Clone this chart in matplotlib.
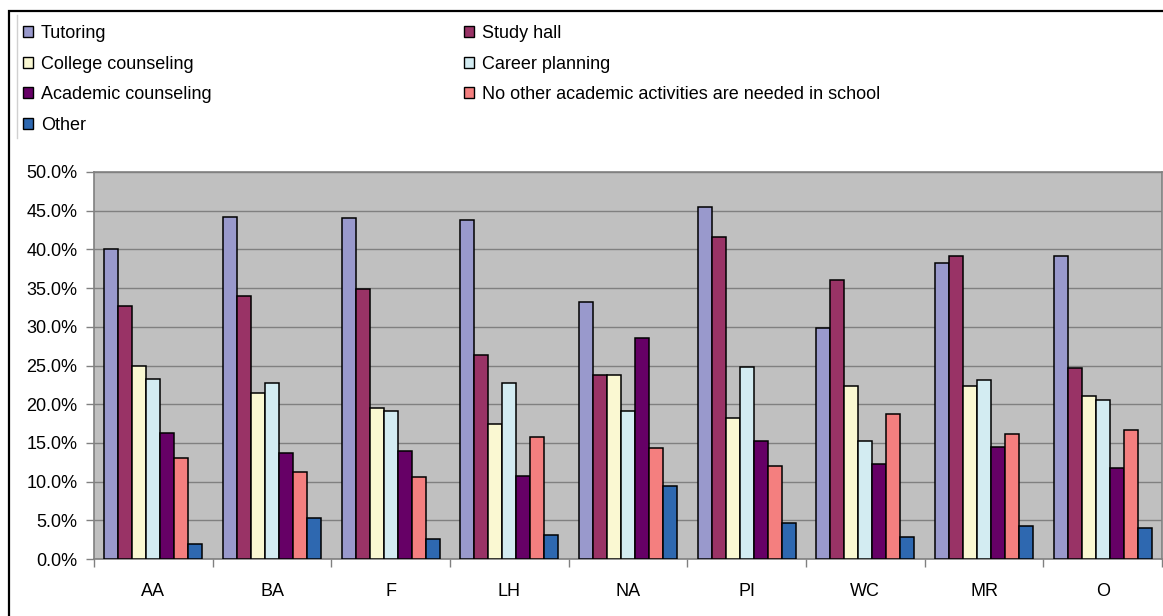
import numpy as np
import matplotlib.pyplot as plt
from matplotlib.patches import Rectangle
from matplotlib.lines import Line2D
from matplotlib.ticker import FuncFormatter, FixedLocator

OUT_PNG = "out.png"

GROUPS = ["AA", "BA", "F", "LH", "NA", "PI", "WC", "MR", "O"]

SERIES = [
    "Tutoring",
    "Study hall",
    "College counseling",
    "Career planning",
    "Academic counseling",
    "No other academic activities are needed in school",
    "Other",
]

# values in percent
tutoring = [40.1, 44.2, 44.1, 43.8, 33.2, 45.5, 29.9, 38.3, 39.2]
study_hall = [32.7, 34.0, 34.9, 26.4, 23.8, 41.6, 36.0, 39.1, 24.7]
college_counseling = [25.0, 21.5, 19.5, 17.4, 23.8, 18.2, 22.3, 22.4, 21.1]
career_planning = [23.2, 22.8, 19.1, 22.8, 19.1, 24.8, 15.2, 23.1, 20.6]
academic_counseling = [16.3, 13.7, 13.9, 10.7, 28.6, 15.2, 12.3, 14.5, 11.7]
no_other = [13.0, 11.3, 10.6, 15.8, 14.3, 12.0, 18.7, 16.1, 16.7]
other = [2.0, 5.3, 2.6, 3.1, 9.4, 4.6, 2.8, 4.3, 4.0]

COLORS = ["#9999CC", "#993366", "#FAF8D2", "#D3ECF2", "#660066", "#F47F7F", "#2E68B0"]

GRID_GRAY = "#808080"
PLOT_BG = "#C0C0C0"


def main():
    plt.rcParams["font.family"] = ["Liberation Sans", "DejaVu Sans"]
    plt.rcParams["font.size"] = 13

    values = [tutoring, study_hall, college_counseling, career_planning,
              academic_counseling, no_other, other]

    fig = plt.figure(figsize=(11.63, 6.16), dpi=100)
    ax = fig.add_axes([94 / 1163, 57 / 616, 1068 / 1163, 387 / 616])
    ax.set_facecolor(PLOT_BG)

    x = np.arange(len(GROUPS))
    n = len(SERIES)
    # excel style gap width of 150%
    w = 1.0 / (n + 1.5)

    handles = []
    for j, (name, vals) in enumerate(zip(SERIES, values)):
        offs = (j - (n - 1) / 2) * w
        ax.bar(x + offs, vals, width=w, color=COLORS[j],
               edgecolor="black", linewidth=1.1, zorder=3)
        handles.append(Rectangle((0, 0), 1, 1, facecolor=COLORS[j],
                                 edgecolor="black", linewidth=1.0))

    ax.set_xlim(-0.5, len(GROUPS) - 0.5)
    ax.set_ylim(0, 50)
    ax.set_yticks(np.arange(0, 50.1, 5))
    ax.yaxis.set_major_formatter(FuncFormatter(lambda v, p: f"{v:.1f}%"))
    ax.grid(axis="y", color=GRID_GRAY, linewidth=1.0, zorder=1)
    ax.set_axisbelow(True)

    ax.set_xticks(x)
    ax.set_xticklabels(GROUPS)
    ax.xaxis.set_minor_locator(FixedLocator(np.arange(-0.5, len(GROUPS), 1.0)))
    ax.tick_params(axis="x", which="major", length=0, pad=17)
    ax.tick_params(axis="x", which="minor", length=6, color=GRID_GRAY, width=1)
    ax.tick_params(axis="y", length=6, color=GRID_GRAY, width=1, pad=6)

    for side in ["left", "right", "top", "bottom"]:
        ax.spines[side].set_color(GRID_GRAY)
        ax.spines[side].set_linewidth(1.2)

    # legend: two columns, filled row-wise like the original
    left_idx = [0, 2, 4, 6]
    right_idx = [1, 3, 5]
    leg_kw = dict(frameon=False, borderpad=0, handlelength=0.55, handleheight=0.55,
                  handletextpad=0.45, labelspacing=0.75, fontsize=13,
                  loc="upper left")
    fig.legend([handles[i] for i in left_idx], [SERIES[i] for i in left_idx],
               bbox_to_anchor=(14 / 1163, 1 - 16 / 616), **leg_kw)
    fig.legend([handles[i] for i in right_idx], [SERIES[i] for i in right_idx],
               bbox_to_anchor=(455 / 1163, 1 - 16 / 616), **leg_kw)

    # outer chart frame (only left and top visible) and legend border line
    fig.add_artist(Rectangle((9 / 1163, -0.2), 1.2, 1.2 - 11 / 616,
                             transform=fig.transFigure, fill=False,
                             edgecolor="black", linewidth=1.6, clip_on=False))
    fig.add_artist(Line2D([17 / 1163, 17 / 1163], [1 - 15 / 616, 1 - 138 / 616],
                          transform=fig.transFigure, color="#D0D0D0", linewidth=1))

    fig.savefig(OUT_PNG, dpi=100)


if __name__ == "__main__":
    main()
